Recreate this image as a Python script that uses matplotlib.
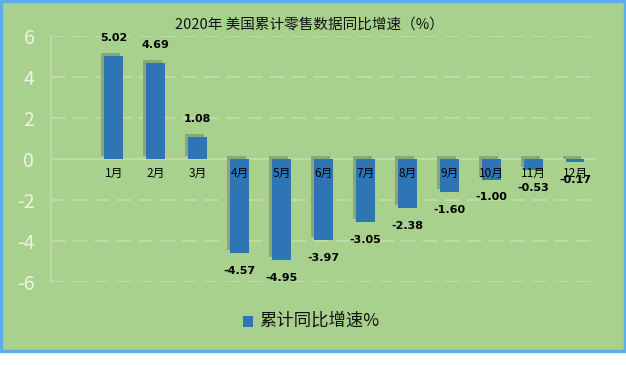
import matplotlib
matplotlib.use("Agg")
from matplotlib import pyplot as plt
from matplotlib import transforms
from matplotlib.patches import Rectangle

plt.rcParams['font.family'] = ['Noto Sans CJK SC', 'DejaVu Sans']

months = ["1月", "2月", "3月", "4月", "5月", "6月", "7月", "8月", "9月", "10月", "11月", "12月"]
growth = [5.02, 4.69, 1.08, -4.57, -4.95, -3.97, -3.05, -2.38, -1.60, -1.00, -0.53, -0.17]
yticks = [-6, -4, -2, 0, 2, 4, 6]

bg = '#a9d18e'
bar_color = '#2e75b6'
shadow_color = '#8aa672'
grid_color = '#c0daa6'

fig = plt.figure(figsize=(6.26, 3.65), dpi=100)
fig.patch.set_facecolor('white')
# green panel with blue border (white strip below)
fig.patches.append(Rectangle((0.002, 14 / 365), 0.996, 1 - 14 / 365 - 0.004,
                             transform=fig.transFigure, facecolor=bg,
                             edgecolor='#5ab0e6', linewidth=2.5, zorder=-5))

ax = fig.add_axes([51 / 626, 1 - 282 / 365, 545 / 626, 246 / 365])
ax.set_facecolor('none')
ax.set_xlim(-1.5, 11.5)
ax.set_ylim(-6, 6)

x = list(range(len(months)))

# shadows, shifted left and up a few pixels
shift = transforms.offset_copy(ax.transData, fig=fig, x=-3, y=3, units='dots')
ax.bar(x, growth, width=0.45, color=shadow_color, transform=shift, zorder=2)
ax.bar(x, growth, width=0.45, color=bar_color, zorder=3)

for yv in yticks:
    if yv == 0:
        ax.axhline(0, color=grid_color, lw=1.5, zorder=1)
    else:
        ax.axhline(yv, color=grid_color, lw=1.5, linestyle=(0, (7, 3.5)), zorder=1)

for i, v in enumerate(growth):
    off = 18 if v > 0 else -18
    ax.annotate("%.2f" % v, (i, v), xytext=(0, off), textcoords='offset pixels',
                ha='center', va='center', fontsize=8, fontweight='bold',
                family=['DejaVu Sans'], zorder=5)
    ax.annotate(months[i], (i, 0), xytext=(0, -14), textcoords='offset pixels',
                ha='center', va='center', fontsize=8.5, color='black', zorder=5)

ax.set_yticks(yticks)
ax.set_yticklabels([str(t) for t in yticks], fontsize=14, color='#f0f2e4')
ax.tick_params(axis='y', length=0, pad=12)
ax.set_xticks([])
for side in ['top', 'right', 'bottom']:
    ax.spines[side].set_visible(False)
ax.spines['left'].set_color(grid_color)
ax.spines['left'].set_linewidth(1.5)

fig.text(0.494, 0.934, "2020年 美国累计零售数据同比增速（%）", ha='center', va='center',
         fontsize=10.5, color='#111111')

# legend
fig.patches.append(Rectangle((243 / 626, 1 - 327 / 365), 10 / 626, 11 / 365,
                             transform=fig.transFigure, facecolor=bar_color,
                             edgecolor='none', zorder=3))
fig.text(259 / 626, 1 - 321 / 365, "累计同比增速%", ha='left', va='center',
         fontsize=12.5, color='#111111')

fig.savefig("out.png", dpi=100, facecolor=fig.get_facecolor())
